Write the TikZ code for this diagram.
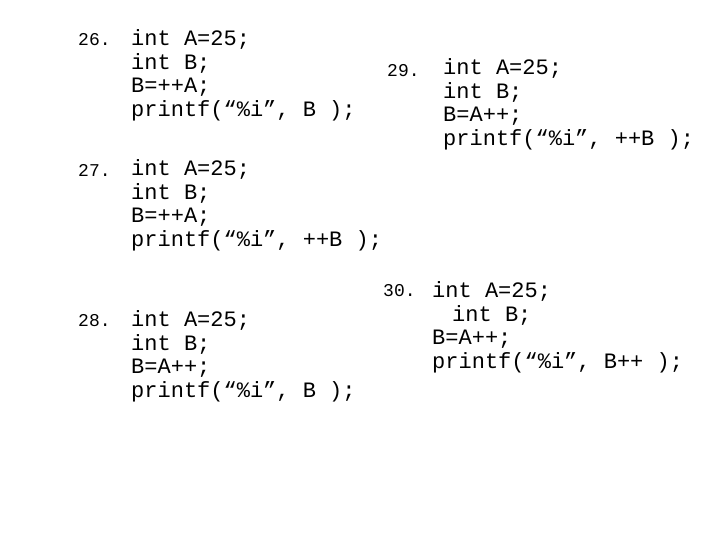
\documentclass[tikz,border=0pt]{standalone}
\usepackage{fontspec}
\setmainfont{Liberation Mono}
\begin{document}
\begin{tikzpicture}[x=1pt,y=-1pt,
  code/.style={anchor=west,inner sep=0pt,font=\fontsize{22}{24}\selectfont},
  num/.style={anchor=west,inner sep=0pt,font=\fontsize{18}{20}\selectfont}]
\useasboundingbox (0,0) rectangle (720,540);
% 26
\node[num] (n26) at (78,40) {26.};
\node[code] (a1) at (131,39) {int A=25;};
\node[code] (a2) at (131,63) {int B;};
\node[code] (a3) at (131,87) {B=++A;};
\node[code] (a4) at (131,111) {printf(“\%i”, B );};
% 27
\node[num] (n27) at (78,170) {27.};
\node[code] (b1) at (131,169) {int A=25;};
\node[code] (b2) at (131,193) {int B;};
\node[code] (b3) at (131,217) {B=++A;};
\node[code] (b4) at (131,241) {printf(“\%i”, ++B );};
% 28
\node[num] (n28) at (78,321) {28.};
\node[code] (c1) at (131,320) {int A=25;};
\node[code] (c2) at (131,344) {int B;};
\node[code] (c3) at (131,368) {B=A++;};
\node[code] (c4) at (131,392) {printf(“\%i”, B );};
% 29
\node[num] (n29) at (387,71) {29.};
\node[code] (d1) at (443,68) {int A=25;};
\node[code] (d2) at (443,92) {int B;};
\node[code] (d3) at (443,116) {B=A++;};
\node[code] (d4) at (443,140) {printf(“\%i”, ++B );};
% 30
\node[num] (n30) at (383,291) {30.};
\node[code] (e1) at (432,291) {int A=25;};
\node[code] (e2) at (452,315) {int B;};
\node[code] (e3) at (432,339) {B=A++;};
\node[code] (e4) at (432,363) {printf(“\%i”, B++ );};
\end{tikzpicture}
\end{document}
